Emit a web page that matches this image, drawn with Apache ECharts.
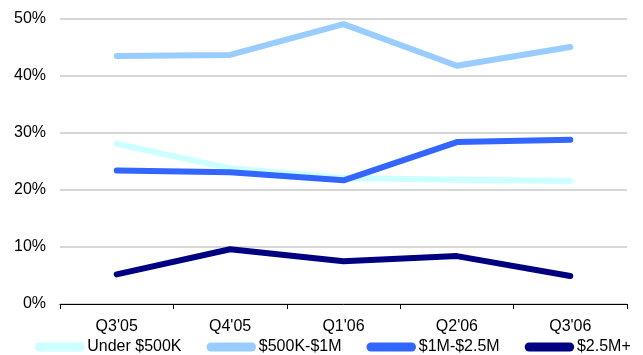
<!DOCTYPE html>
<html>
<head>
<meta charset="utf-8">
<script src="https://cdn.jsdelivr.net/npm/echarts@6/dist/echarts.min.js"></script>
<style>
  html, body { margin: 0; padding: 0; background: #fff; }
  #chart { width: 643px; height: 355px; }
</style>
</head>
<body>
<div id="chart"></div>
<script>
// chart data
var quarters = ["Q3'05", "Q4'05", "Q1'06", "Q2'06", "Q3'06"];
var under500k = [28.1, 23.8, 22.1, 21.8, 21.6];
var k500to1m = [43.5, 43.7, 49.1, 41.8, 45.1];
var m1to2_5 = [23.4, 23.1, 21.7, 28.4, 28.8];
var m2_5plus = [5.2, 9.6, 7.5, 8.4, 4.9];
var yTicks = [0, 10, 20, 30, 40, 50];

var pill = 'path://M5,0 L50,0 A5,5 0 0 1 50,10 L5,10 A5,5 0 0 1 5,0 Z';

function lineSeries(name, data, color) {
    return {
        name: name,
        type: 'line',
        data: data,
        symbol: 'none',
        lineStyle: { color: color, width: 6, cap: 'round', join: 'round' },
        itemStyle: { color: color }
    };
}

var chart = echarts.init(document.getElementById('chart'));
chart.setOption({
    animation: false,
    textStyle: { fontFamily: 'Liberation Sans, Arial, sans-serif' },
    grid: { left: 60, right: 16, top: 19, bottom: 51, containLabel: false },
    xAxis: {
        type: 'category',
        data: quarters,
        boundaryGap: true,
        axisLine: { lineStyle: { color: '#000', width: 1 } },
        axisTick: { show: true, length: 5, lineStyle: { color: '#000' } },
        axisLabel: { color: '#000', fontSize: 16, margin: 15 }
    },
    yAxis: {
        type: 'value',
        min: yTicks[0],
        max: yTicks[yTicks.length - 1],
        interval: 10,
        axisLine: { show: false },
        axisTick: { show: false },
        axisLabel: { color: '#000', fontSize: 16, margin: 14, formatter: '{value}%' },
        splitLine: { lineStyle: { color: '#c8c8c8', width: 1.5 } }
    },
    legend: {
        left: 30,
        top: 334,
        itemWidth: 55,
        itemHeight: 9,
        itemGap: 25,
        icon: pill,
        textStyle: { color: '#000', fontSize: 16, padding: [0, 0, 0, -5] },
        data: ['Under $500K', '$500K-$1M', '$1M-$2.5M', '$2.5M+']
    },
    series: [
        lineSeries('Under $500K', under500k, '#ccffff'),
        lineSeries('$500K-$1M', k500to1m, '#99ccff'),
        lineSeries('$1M-$2.5M', m1to2_5, '#3366ff'),
        lineSeries('$2.5M+', m2_5plus, '#000080')
    ]
});
</script>
</body>
</html>
